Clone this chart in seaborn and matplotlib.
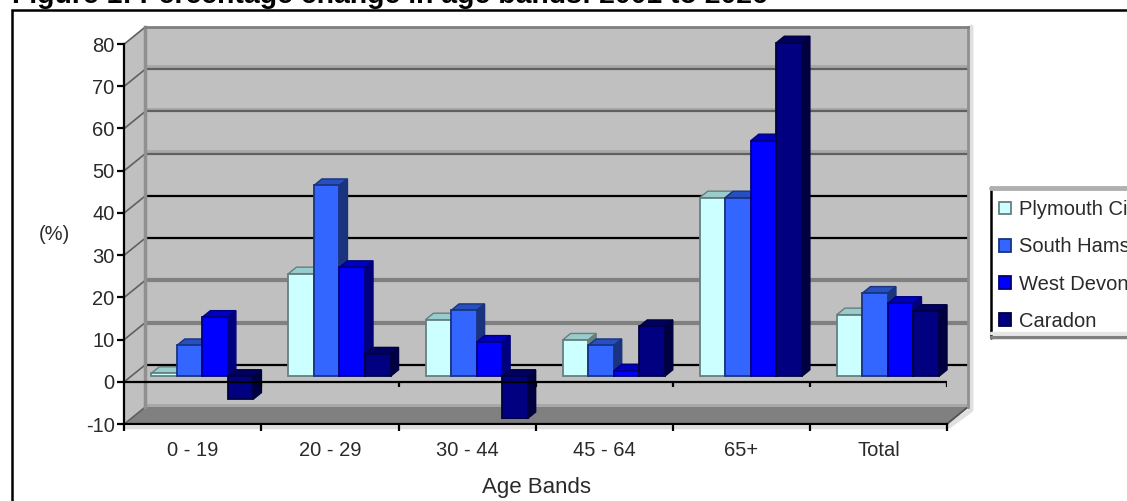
import pandas as pd
import matplotlib
matplotlib.use("Agg")
import matplotlib.pyplot as plt
from matplotlib.patches import Polygon
from matplotlib.transforms import IdentityTransform
import seaborn as sns

# --- DATA ---
AGE_BANDS = ["0 - 19", "20 - 29", "30 - 44", "45 - 64", "65+", "Total"]
PLYMOUTH = [0.7, 24.3, 13.4, 8.6, 42.3, 14.6]
SOUTH_HAMS = [7.3, 45.2, 15.6, 7.3, 42.3, 19.7]
WEST_DEVON = [14.0, 25.8, 8.1, 1.3, 55.8, 17.3]
CARADON = [-5.4, 5.3, -10.0, 11.8, 79.0, 15.4]
DISTRICTS = ["Plymouth City", "South Hams", "West Devon", "Caradon"]
Y_TICKS = [-10, 0, 10, 20, 30, 40, 50, 60, 70, 80]
TITLE = "Figure 1: Percentage change in age bands: 2001 to 2026"

# --- LAYOUT (pixels, measured from the top left) ---
W, H = 1127, 501
LEFT, RIGHT, TOP, BOTTOM = 124.3, 947, 44, 424
WALL_DX, WALL_DY = 21, 17
BAR_DX, BAR_DY = 9.5, 5.5
DEPTH_X, DEPTH_Y = 8, 6.5

FACE = {"Plymouth City": "#CCFFFF", "South Hams": "#3366FF", "West Devon": "#0000FF", "Caradon": "#000080"}
ROOF = {"Plymouth City": "#99CCCC", "South Hams": "#2650BF", "West Devon": "#0000BF", "Caradon": "#000060"}
SIDE = {"Plymouth City": "#667F7F", "South Hams": "#1A337F", "West Devon": "#00007F", "Caradon": "#000040"}

# background wall lines: level, colour, width in pt
GRID_LINES = [(70, "#606060", 1.6), (60, "#606060", 1.6), (50, "#606060", 1.6),
              (40, "#000000", 1.6), (30, "#000000", 1.6),
              (20, "#808080", 3.0), (10, "#808080", 3.0), (0, "#000000", 1.6)]

sns.set_theme(style="white")
plt.rcParams["font.family"] = ["Liberation Sans", "DejaVu Sans"]
plt.rcParams["axes.unicode_minus"] = False
TEXT_COLOR = "#2a2a2a"
FONT_SIZE = 14.5


def px_axes(fig, left, right, top, bottom, zorder):
    ax = fig.add_axes([left / W, 1 - bottom / H, (right - left) / W, (bottom - top) / H])
    ax.set_zorder(zorder)
    return ax


fig = plt.figure(figsize=(W / 100, H / 100), dpi=100, facecolor="white")

# --- 1. BACKGROUND: outer frame, side wall, floor, legend box ---
bg = fig.add_axes([0, 0, 1, 1])
bg.set_xlim(0, W)
bg.set_ylim(H, 0)
bg.set_axis_off()
bg.set_zorder(0)
bg.text(12, 3, TITLE, fontsize=20.4, fontweight="bold", color="black", va="baseline")
bg.plot([12, 12, W], [H, 10, 10], color="black", lw=1.8, solid_joinstyle="miter")

wall_l, wall_r = LEFT + WALL_DX, RIGHT + WALL_DX
wall_t, wall_b = TOP - WALL_DY, BOTTOM - WALL_DY
bg.add_patch(Polygon([(LEFT, TOP), (wall_l, wall_t), (wall_l, wall_b), (LEFT, BOTTOM)], fc="#C0C0C0", ec="none"))
bg.add_patch(Polygon([(LEFT, BOTTOM), (wall_l, wall_b), (wall_r, wall_b), (RIGHT, BOTTOM)], fc="#808080", ec="none"))
bg.plot([wall_r + 3, wall_r + 3, RIGHT + 2], [wall_t, wall_b + 3, BOTTOM + 2], color="#E0E0E0", lw=3.5)
bg.plot([LEFT, RIGHT], [BOTTOM + 3, BOTTOM + 3], color="#E0E0E0", lw=2.5)
bg.plot([RIGHT, wall_r], [BOTTOM, wall_b], color="#505050", lw=1.3)

# slanted lines on the side wall, one for each tick
scale = (BOTTOM - TOP) / (Y_TICKS[-1] - Y_TICKS[0])
for tick in Y_TICKS:
    y_px = BOTTOM - (tick - Y_TICKS[0]) * scale
    bg.plot([LEFT, wall_l], [y_px, y_px - WALL_DY], color="#606060", lw=1.2)

# legend box
bg.plot([991, 991], [187, 338], color="black", lw=1.8)
bg.plot([991, W], [188, 188], color="#B0B0B0", lw=3.5)
bg.plot([991, W], [337, 337], color="#808080", lw=2.5)
bg.plot([991, W], [333, 333], color="#E6E6E6", lw=2.5)

# --- 2. BACK WALL ---
wall = px_axes(fig, wall_l, wall_r, wall_t, wall_b, 1)
wall.set_facecolor("#C0C0C0")
wall.set_ylim(Y_TICKS[0], Y_TICKS[-1])
wall.set_xlim(0, 1)
wall.set_xticks([])
wall.set_yticks([])
for spine in wall.spines.values():
    spine.set_visible(False)
wall.spines["top"].set_visible(True)
wall.spines["top"].set_color("#808080")
wall.spines["top"].set_linewidth(2)
wall.spines["left"].set_visible(True)
wall.spines["left"].set_color("#909090")
wall.spines["left"].set_linewidth(2.5)
wall.spines["right"].set_visible(True)
wall.spines["right"].set_color("#909090")
wall.spines["right"].set_linewidth(2)
for level, color, width in GRID_LINES:
    if color == "#606060":
        wall.axhspan(level, level + 0.9, color="#A8A8A8", lw=0)
    wall.axhline(level, color=color, lw=width)
wall.axhspan(-10, -9.4, color="#A8A8A8", lw=0)

# --- 3. BARS ---
df = pd.DataFrame({
    "band": AGE_BANDS * 4,
    "district": [d for d in DISTRICTS for _ in AGE_BANDS],
    "pct": PLYMOUTH + SOUTH_HAMS + WEST_DEVON + CARADON,
})
ax_bars = px_axes(fig, LEFT + BAR_DX, RIGHT + BAR_DX, TOP - BAR_DY, BOTTOM - BAR_DY, 2)
sns.barplot(data=df, x="band", y="pct", hue="district", order=AGE_BANDS, hue_order=DISTRICTS,
            palette=FACE, saturation=1, width=0.745, gap=0, ax=ax_bars)
ax_bars.set_xlim(-0.5, 5.5)
ax_bars.set_ylim(Y_TICKS[0], Y_TICKS[-1])
ax_bars.set_axis_off()

# extrude each bar: later bars sit over the side of earlier ones
for series_idx, (district, container) in enumerate(zip(DISTRICTS, ax_bars.containers)):
    for bar in container:
        box = bar.get_window_extent()
        z = 3 + series_idx
        bar.set_zorder(z + 0.2)
        bar.set_edgecolor(SIDE[district])
        bar.set_linewidth(1.3)
        roof = Polygon([(box.x0, box.y1), (box.x1, box.y1),
                        (box.x1 + DEPTH_X, box.y1 + DEPTH_Y), (box.x0 + DEPTH_X, box.y1 + DEPTH_Y)],
                       fc=ROOF[district], ec=SIDE[district], lw=1.0, transform=IdentityTransform(), zorder=z)
        side = Polygon([(box.x1, box.y0), (box.x1, box.y1),
                        (box.x1 + DEPTH_X, box.y1 + DEPTH_Y), (box.x1 + DEPTH_X, box.y0 + DEPTH_Y)],
                       fc=SIDE[district], ec=SIDE[district], lw=1.0, transform=IdentityTransform(), zorder=z)
        ax_bars.add_artist(roof)
        ax_bars.add_artist(side)
        roof.set_clip_on(False)
        side.set_clip_on(False)

sns.move_legend(ax_bars, loc="upper left", bbox_to_anchor=(999 / W, 1 - 200 / H),
                bbox_transform=fig.transFigure, frameon=False, title=None, fontsize=FONT_SIZE,
                borderpad=0, borderaxespad=0, labelspacing=0.91, handlelength=0.6, handleheight=0.6,
                handletextpad=0.4, labelcolor=TEXT_COLOR)
for handle, district in zip(ax_bars.get_legend().get_patches(), DISTRICTS):
    handle.set_edgecolor(SIDE[district])
    handle.set_linewidth(1.3)

# --- 4. FRONT AXES ---
ax = px_axes(fig, LEFT, RIGHT, TOP, BOTTOM, 3)
ax.patch.set_alpha(0)
ax.set_xlim(0, len(AGE_BANDS))
ax.set_ylim(Y_TICKS[0], Y_TICKS[-1])
ax.spines["top"].set_visible(False)
ax.spines["right"].set_visible(False)
ax.spines["left"].set_color("black")
ax.spines["bottom"].set_color("black")
ax.spines["left"].set_linewidth(1.6)
ax.spines["bottom"].set_linewidth(1.6)
ax.axhline(0, color="black", lw=1.6)
boundaries = list(range(len(AGE_BANDS) + 1))
ax.vlines(boundaries[1:], -1.3, 0, color="black", lw=1.6)
ax.set_yticks(Y_TICKS)
ax.set_xticks(boundaries)
ax.set_xticklabels([])
ax.set_xticks([i + 0.5 for i in range(len(AGE_BANDS))], minor=True)
ax.set_xticklabels(AGE_BANDS, minor=True)
ax.tick_params(axis="y", left=True, length=5, width=1.6, color="black", pad=2,
               labelsize=FONT_SIZE, labelcolor=TEXT_COLOR)
ax.tick_params(axis="x", which="major", bottom=True, length=5, width=1.6, color="black")
ax.tick_params(axis="x", which="minor", bottom=False, length=0, pad=12,
               labelsize=FONT_SIZE, labelcolor=TEXT_COLOR)
ax.set_xlabel("")
ax.set_ylabel("")

bg.text(54, 234, "(%)", fontsize=FONT_SIZE, color=TEXT_COLOR, ha="center", va="center")
bg.text(537, 488, "Age Bands", fontsize=FONT_SIZE + 1.5, color=TEXT_COLOR, ha="center", va="center")

plt.savefig("out.png", dpi=100)
plt.close()
